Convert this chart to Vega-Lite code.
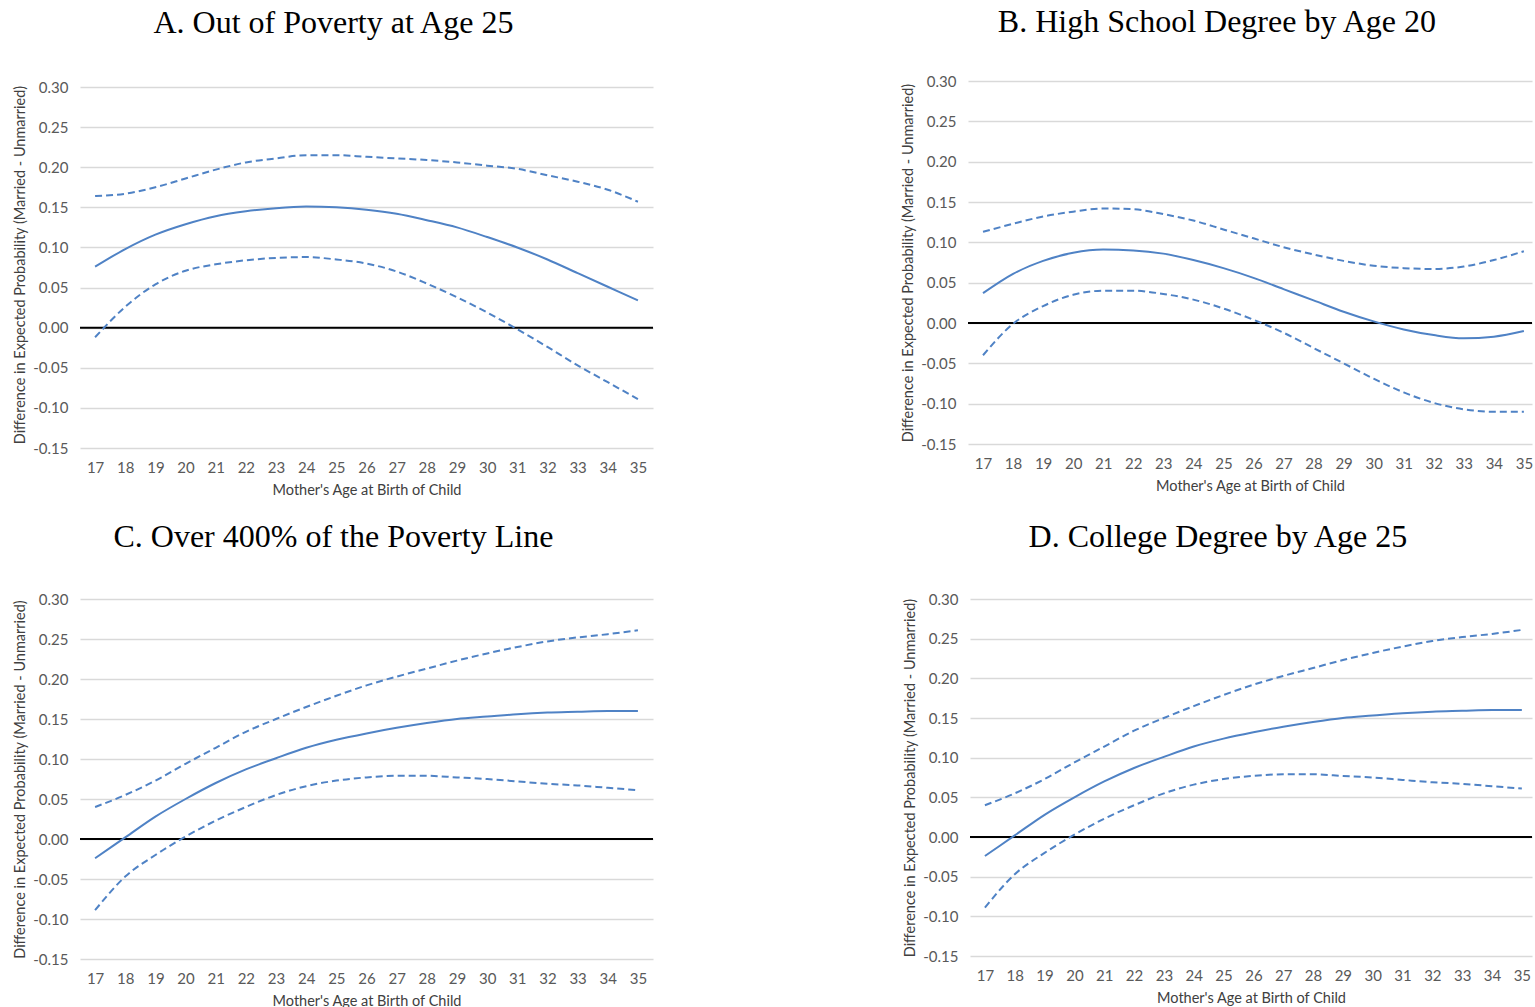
{
  "$schema": "https://vega.github.io/schema/vega-lite/v6.json",
  "padding": {"left": 12, "top": 6, "right": 0, "bottom": 0},
  "background": "white",
  "datasets": {
    "poverty25": [
      {"age": 17, "est": 0.076, "lo": -0.012, "hi": 0.164},
      {"age": 18, "est": 0.098, "lo": 0.026, "hi": 0.167},
      {"age": 19, "est": 0.116, "lo": 0.054, "hi": 0.175},
      {"age": 20, "est": 0.129, "lo": 0.071, "hi": 0.186},
      {"age": 21, "est": 0.139, "lo": 0.079, "hi": 0.197},
      {"age": 22, "est": 0.145, "lo": 0.084, "hi": 0.206},
      {"age": 23, "est": 0.149, "lo": 0.087, "hi": 0.211},
      {"age": 24, "est": 0.151, "lo": 0.088, "hi": 0.215},
      {"age": 25, "est": 0.150, "lo": 0.085, "hi": 0.215},
      {"age": 26, "est": 0.147, "lo": 0.080, "hi": 0.213},
      {"age": 27, "est": 0.142, "lo": 0.070, "hi": 0.211},
      {"age": 28, "est": 0.134, "lo": 0.055, "hi": 0.209},
      {"age": 29, "est": 0.125, "lo": 0.038, "hi": 0.206},
      {"age": 30, "est": 0.113, "lo": 0.019, "hi": 0.202},
      {"age": 31, "est": 0.100, "lo": -0.002, "hi": 0.198},
      {"age": 32, "est": 0.085, "lo": -0.024, "hi": 0.190},
      {"age": 33, "est": 0.068, "lo": -0.047, "hi": 0.182},
      {"age": 34, "est": 0.051, "lo": -0.068, "hi": 0.172},
      {"age": 35, "est": 0.034, "lo": -0.089, "hi": 0.157}
    ],
    "highschool20": [
      {"age": 17, "est": 0.037, "lo": -0.040, "hi": 0.113},
      {"age": 18, "est": 0.061, "lo": -0.001, "hi": 0.123},
      {"age": 19, "est": 0.077, "lo": 0.021, "hi": 0.132},
      {"age": 20, "est": 0.087, "lo": 0.035, "hi": 0.138},
      {"age": 21, "est": 0.091, "lo": 0.040, "hi": 0.142},
      {"age": 22, "est": 0.090, "lo": 0.040, "hi": 0.141},
      {"age": 23, "est": 0.086, "lo": 0.036, "hi": 0.135},
      {"age": 24, "est": 0.078, "lo": 0.029, "hi": 0.127},
      {"age": 25, "est": 0.068, "lo": 0.018, "hi": 0.116},
      {"age": 26, "est": 0.056, "lo": 0.004, "hi": 0.105},
      {"age": 27, "est": 0.042, "lo": -0.012, "hi": 0.094},
      {"age": 28, "est": 0.028, "lo": -0.031, "hi": 0.085},
      {"age": 29, "est": 0.014, "lo": -0.050, "hi": 0.077},
      {"age": 30, "est": 0.002, "lo": -0.069, "hi": 0.071},
      {"age": 31, "est": -0.008, "lo": -0.086, "hi": 0.068},
      {"age": 32, "est": -0.015, "lo": -0.099, "hi": 0.067},
      {"age": 33, "est": -0.019, "lo": -0.107, "hi": 0.070},
      {"age": 34, "est": -0.017, "lo": -0.110, "hi": 0.078},
      {"age": 35, "est": -0.010, "lo": -0.110, "hi": 0.089}
    ],
    "over400": [
      {"age": 17, "est": -0.024, "lo": -0.089, "hi": 0.040},
      {"age": 18, "est": 0.002, "lo": -0.047, "hi": 0.055},
      {"age": 19, "est": 0.028, "lo": -0.020, "hi": 0.073},
      {"age": 20, "est": 0.050, "lo": 0.003, "hi": 0.094},
      {"age": 21, "est": 0.070, "lo": 0.023, "hi": 0.114},
      {"age": 22, "est": 0.087, "lo": 0.040, "hi": 0.134},
      {"age": 23, "est": 0.101, "lo": 0.055, "hi": 0.150},
      {"age": 24, "est": 0.114, "lo": 0.066, "hi": 0.165},
      {"age": 25, "est": 0.124, "lo": 0.073, "hi": 0.179},
      {"age": 26, "est": 0.132, "lo": 0.077, "hi": 0.192},
      {"age": 27, "est": 0.139, "lo": 0.079, "hi": 0.203},
      {"age": 28, "est": 0.145, "lo": 0.079, "hi": 0.213},
      {"age": 29, "est": 0.150, "lo": 0.077, "hi": 0.223},
      {"age": 30, "est": 0.153, "lo": 0.075, "hi": 0.232},
      {"age": 31, "est": 0.156, "lo": 0.072, "hi": 0.240},
      {"age": 32, "est": 0.158, "lo": 0.069, "hi": 0.247},
      {"age": 33, "est": 0.159, "lo": 0.067, "hi": 0.252},
      {"age": 34, "est": 0.160, "lo": 0.064, "hi": 0.256},
      {"age": 35, "est": 0.160, "lo": 0.061, "hi": 0.261}
    ],
    "college25": [
      {"age": 17, "est": -0.024, "lo": -0.089, "hi": 0.040},
      {"age": 18, "est": 0.002, "lo": -0.047, "hi": 0.055},
      {"age": 19, "est": 0.028, "lo": -0.020, "hi": 0.073},
      {"age": 20, "est": 0.050, "lo": 0.003, "hi": 0.094},
      {"age": 21, "est": 0.070, "lo": 0.023, "hi": 0.114},
      {"age": 22, "est": 0.087, "lo": 0.040, "hi": 0.134},
      {"age": 23, "est": 0.101, "lo": 0.055, "hi": 0.150},
      {"age": 24, "est": 0.114, "lo": 0.066, "hi": 0.165},
      {"age": 25, "est": 0.124, "lo": 0.073, "hi": 0.179},
      {"age": 26, "est": 0.132, "lo": 0.077, "hi": 0.192},
      {"age": 27, "est": 0.139, "lo": 0.079, "hi": 0.203},
      {"age": 28, "est": 0.145, "lo": 0.079, "hi": 0.213},
      {"age": 29, "est": 0.150, "lo": 0.077, "hi": 0.223},
      {"age": 30, "est": 0.153, "lo": 0.075, "hi": 0.232},
      {"age": 31, "est": 0.156, "lo": 0.072, "hi": 0.240},
      {"age": 32, "est": 0.158, "lo": 0.069, "hi": 0.247},
      {"age": 33, "est": 0.159, "lo": 0.067, "hi": 0.252},
      {"age": 34, "est": 0.160, "lo": 0.064, "hi": 0.256},
      {"age": 35, "est": 0.160, "lo": 0.061, "hi": 0.261}
    ]
  },
  "vconcat": [
    {
      "hconcat": [
        {
          "title": {"text": "A. Out of Poverty at Age 25", "offset": 40},
          "width": 573,
          "height": 367,
          "data": {"name": "poverty25"},
          "layer": [
            {"data": {"values": [{"zero": 0}]}, "mark": {"type": "rule", "color": "black", "strokeWidth": 2}, "encoding": {"y": {"field": "zero", "type": "quantitative", "scale": {"domain": [-0.15, 0.3075], "nice": false}}}},
            {"mark": {"type": "line", "color": "#4f82c5", "strokeWidth": 2, "interpolate": "monotone"}, "encoding": {"x": {"field": "age", "type": "quantitative", "scale": {"domain": [16.5, 35.5], "nice": false}, "title": "Mother's Age at Birth of Child"}, "y": {"field": "est", "type": "quantitative", "title": "Difference in Expected Probability (Married - Unmarried)"}}},
            {"mark": {"type": "line", "color": "#4f82c5", "strokeWidth": 2, "strokeDash": [7, 4], "interpolate": "monotone"}, "encoding": {"x": {"field": "age", "type": "quantitative"}, "y": {"field": "lo", "type": "quantitative"}}},
            {"mark": {"type": "line", "color": "#4f82c5", "strokeWidth": 2, "strokeDash": [7, 4], "interpolate": "monotone"}, "encoding": {"x": {"field": "age", "type": "quantitative"}, "y": {"field": "hi", "type": "quantitative"}}}
          ]
        },
        {
          "title": {"text": "B. High School Degree by Age 20", "offset": 35},
          "width": 564,
          "height": 363,
          "data": {"name": "highschool20"},
          "layer": [
            {"data": {"values": [{"zero": 0}]}, "mark": {"type": "rule", "color": "black", "strokeWidth": 2}, "encoding": {"y": {"field": "zero", "type": "quantitative", "scale": {"domain": [-0.15, 0.3], "nice": false}}}},
            {"mark": {"type": "line", "color": "#4f82c5", "strokeWidth": 2, "interpolate": "monotone"}, "encoding": {"x": {"field": "age", "type": "quantitative", "scale": {"domain": [16.5, 35.27], "nice": false}, "title": "Mother's Age at Birth of Child"}, "y": {"field": "est", "type": "quantitative", "title": "Difference in Expected Probability (Married - Unmarried)"}}},
            {"mark": {"type": "line", "color": "#4f82c5", "strokeWidth": 2, "strokeDash": [7, 4], "interpolate": "monotone"}, "encoding": {"x": {"field": "age", "type": "quantitative"}, "y": {"field": "lo", "type": "quantitative"}}},
            {"mark": {"type": "line", "color": "#4f82c5", "strokeWidth": 2, "strokeDash": [7, 4], "interpolate": "monotone"}, "encoding": {"x": {"field": "age", "type": "quantitative"}, "y": {"field": "hi", "type": "quantitative"}}}
          ]
        }
      ],
      "spacing": 246
    },
    {
      "hconcat": [
        {
          "title": {"text": "C.  Over 400% of the Poverty Line", "offset": 38},
          "width": 573,
          "height": 360,
          "data": {"name": "over400"},
          "layer": [
            {"data": {"values": [{"zero": 0}]}, "mark": {"type": "rule", "color": "black", "strokeWidth": 2}, "encoding": {"y": {"field": "zero", "type": "quantitative", "scale": {"domain": [-0.15, 0.3], "nice": false}}}},
            {"mark": {"type": "line", "color": "#4f82c5", "strokeWidth": 2, "interpolate": "monotone"}, "encoding": {"x": {"field": "age", "type": "quantitative", "scale": {"domain": [16.5, 35.5], "nice": false}, "title": "Mother's Age at Birth of Child"}, "y": {"field": "est", "type": "quantitative", "title": "Difference in Expected Probability (Married - Unmarried)"}}},
            {"mark": {"type": "line", "color": "#4f82c5", "strokeWidth": 2, "strokeDash": [7, 4], "interpolate": "monotone"}, "encoding": {"x": {"field": "age", "type": "quantitative"}, "y": {"field": "lo", "type": "quantitative"}}},
            {"mark": {"type": "line", "color": "#4f82c5", "strokeWidth": 2, "strokeDash": [7, 4], "interpolate": "monotone"}, "encoding": {"x": {"field": "age", "type": "quantitative"}, "y": {"field": "hi", "type": "quantitative"}}}
          ]
        },
        {
          "title": {"text": "D. College Degree by Age 25", "offset": 38},
          "width": 562,
          "height": 357,
          "data": {"name": "college25"},
          "layer": [
            {"data": {"values": [{"zero": 0}]}, "mark": {"type": "rule", "color": "black", "strokeWidth": 2}, "encoding": {"y": {"field": "zero", "type": "quantitative", "scale": {"domain": [-0.15, 0.3], "nice": false}}}},
            {"mark": {"type": "line", "color": "#4f82c5", "strokeWidth": 2, "interpolate": "monotone"}, "encoding": {"x": {"field": "age", "type": "quantitative", "scale": {"domain": [16.5, 35.34], "nice": false}, "title": "Mother's Age at Birth of Child"}, "y": {"field": "est", "type": "quantitative", "title": "Difference in Expected Probability (Married - Unmarried)"}}},
            {"mark": {"type": "line", "color": "#4f82c5", "strokeWidth": 2, "strokeDash": [7, 4], "interpolate": "monotone"}, "encoding": {"x": {"field": "age", "type": "quantitative"}, "y": {"field": "lo", "type": "quantitative"}}},
            {"mark": {"type": "line", "color": "#4f82c5", "strokeWidth": 2, "strokeDash": [7, 4], "interpolate": "monotone"}, "encoding": {"x": {"field": "age", "type": "quantitative"}, "y": {"field": "hi", "type": "quantitative"}}}
          ]
        }
      ],
      "spacing": 248
    }
  ],
  "spacing": 24,
  "config": {
    "locale": {"number": {"decimal": ".", "thousands": ",", "grouping": [3], "currency": ["$", ""], "minus": "-"}},
    "view": {"stroke": null},
    "title": {"font": "Liberation Serif", "fontSize": 32, "fontWeight": "normal", "color": "black", "anchor": "middle", "frame": "bounds"},
    "axis": {
      "labelFont": "Lato",
      "labelFontSize": 15,
      "labelColor": "#595959",
      "titleFont": "Lato",
      "titleFontSize": 14.5,
      "titleFontWeight": "normal",
      "titleColor": "#404040",
      "domain": false,
      "ticks": false
    },
    "axisX": {"grid": false, "values": [17, 18, 19, 20, 21, 22, 23, 24, 25, 26, 27, 28, 29, 30, 31, 32, 33, 34, 35], "format": "d", "labelPadding": 12, "titlePadding": 8, "labelFlush": false},
    "axisY": {"grid": true, "gridColor": "#d9d9d9", "gridWidth": 1.5, "values": [-0.15, -0.1, -0.05, 0, 0.05, 0.1, 0.15, 0.2, 0.25, 0.3], "format": ".2f", "labelPadding": 12, "titlePadding": 5}
  }
}
